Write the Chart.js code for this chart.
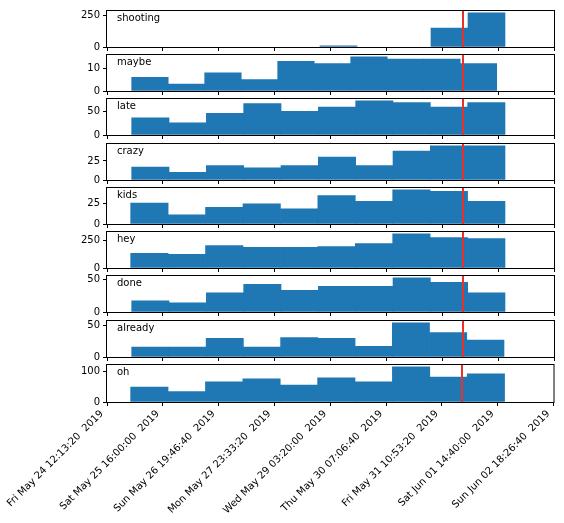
<!DOCTYPE html>
<html>
<head>
<meta charset="utf-8">
<script src="https://cdn.jsdelivr.net/npm/chart.js@4"></script>
<style>
  body { margin: 0; background: #fff; }
  #figure { position: relative; width: 564px; height: 523px; background: #fff; }
  #figure canvas { position: absolute; left: 0; }
</style>
</head>
<body>
<div id="figure"></div>
<script>
// words, one subplot each
const words = ['shooting', 'maybe', 'late', 'crazy', 'kids', 'hey', 'done', 'already', 'oh'];

// histogram counts (10 bins per word)
const shooting = [0, 0, 0, 0, 0, 10, 0, 0, 150, 273];
const maybe = [6, 3, 8, 5, 13, 12, 15, 14, 14, 12];
const late = [37, 26, 47, 68, 51, 60, 74, 70, 60, 70];
const crazy = [17, 10, 19, 16, 19, 30, 19, 38, 45, 45];
const kids = [25, 11, 20, 24, 18, 34, 27, 41, 39, 27];
const hey = [134, 125, 205, 188, 188, 196, 223, 312, 277, 268];
const done = [17, 14, 29, 42, 33, 39, 39, 52, 45, 29];
const already = [16, 16, 30, 16, 31, 30, 17, 55, 39, 27];
const oh = [48, 34, 65, 75, 55, 78, 65, 114, 81, 91];
const counts = [shooting, maybe, late, crazy, kids, hey, done, already, oh];

// first and last bin edge per word (unix seconds)
const binStart = [1558750100, 1558744200, 1558744200, 1558744200, 1558742400, 1558742400, 1558744200, 1558744200, 1558742400];
const binEnd = [1559412300, 1559397450, 1559412300, 1559412300, 1559412300, 1559412300, 1559412300, 1559410500, 1559412300];

// marker line
const markTime = 1559336600;

// x ticks
const xTicks = [1558700000, 1558800000, 1558900000, 1559000000, 1559100000, 1559200000, 1559300000, 1559400000, 1559500000];
const xTickLabels = [
  'Fri May 24 12:13:20  2019', 'Sat May 25 16:00:00  2019', 'Sun May 26 19:46:40  2019',
  'Mon May 27 23:33:20  2019', 'Wed May 29 03:20:00  2019', 'Thu May 30 07:06:40  2019',
  'Fri May 31 10:53:20  2019', 'Sat Jun 01 14:40:00  2019', 'Sun Jun 02 18:26:40  2019'
];

// y ticks per subplot
const yTicks = [[0, 250], [0, 10], [0, 50], [0, 25], [0, 25], [0, 250], [0, 50], [0, 50], [0, 100]];

const font = { family: 'DejaVu Sans', size: 10 };
const W = 564, H = 523;
const plotLeft = 107, plotRight = 554;
const padTop = 10;
const axH = 37;

const figure = document.getElementById('figure');

const framePlugin = {
  id: 'frame',
  afterDatasetsDraw(chart, args, opts) {
    const { ctx, chartArea: a } = chart;
    const x = Math.round(chart.scales.x.getPixelForValue(markTime));
    ctx.save();
    ctx.strokeStyle = '#e8302c';
    ctx.lineWidth = 2;
    ctx.beginPath();
    ctx.moveTo(x, a.top);
    ctx.lineTo(x, a.bottom);
    ctx.stroke();

    ctx.strokeStyle = '#000';
    ctx.lineWidth = 1;
    ctx.strokeRect(a.left - 0.5, a.top - 0.5, a.right - a.left + 1, a.bottom - a.top + 1);

    ctx.fillStyle = '#000';
    ctx.font = '10px "DejaVu Sans"';
    ctx.textBaseline = 'top';
    ctx.textAlign = 'left';
    ctx.fillText(opts.word, a.left + 10, a.top + 2);
    ctx.restore();
  }
};

words.forEach((word, i) => {
  const last = i === words.length - 1;
  const axTop = Math.round(10.7 + i * 44.3);
  const canvasTop = axTop - padTop;
  const xAxisH = last ? H - (axTop + axH) : 8;
  const canvasH = padTop + axH + xAxisH;

  const canvas = document.createElement('canvas');
  canvas.width = W;
  canvas.height = canvasH;
  canvas.style.top = canvasTop + 'px';
  figure.appendChild(canvas);

  const vals = counts[i];
  const step = (binEnd[i] - binStart[i]) / vals.length;
  // empty bins are left out so no hairline is drawn for them
  const data = vals.map((v, k) => ({ x: binStart[i] + (k + 0.5) * step, y: v === 0 ? null : v }));
  const yMax = Math.max(...vals) * 1.05;

  new Chart(canvas, {
    type: 'bar',
    data: {
      datasets: [{
        label: word,
        data: data,
        backgroundColor: '#1f77b4',
        borderWidth: 0,
        barPercentage: 1,
        categoryPercentage: 1
      }]
    },
    options: {
      responsive: false,
      animation: false,
      layout: { padding: { top: padTop, right: W - plotRight, bottom: 0, left: 0 } },
      plugins: {
        legend: { display: false },
        tooltip: { enabled: false },
        frame: { word: word }
      },
      scales: {
        x: {
          type: 'linear',
          min: xTicks[0],
          max: xTicks[xTicks.length - 1],
          offset: false,
          grid: { offset: false, drawOnChartArea: false, drawTicks: true, tickLength: 4, color: '#000' },
          border: { display: false },
          afterBuildTicks: s => { s.ticks = xTicks.map(v => ({ value: v })); },
          afterFit: s => { s.height = xAxisH; },
          ticks: {
            display: last,
            autoSkip: false,
            minRotation: 45,
            maxRotation: 45,
            padding: 2,
            labelOffset: -5,
            color: '#000',
            font: font,
            callback: (v, idx) => xTickLabels[idx]
          }
        },
        y: {
          type: 'linear',
          min: 0,
          max: yMax,
          grid: { drawOnChartArea: false, drawTicks: true, tickLength: 4, color: '#000' },
          border: { display: false },
          afterBuildTicks: s => { s.ticks = yTicks[i].map(v => ({ value: v })); },
          afterFit: s => { s.width = plotLeft; },
          ticks: { padding: 3, color: '#000', font: font }
        }
      }
    },
    plugins: [framePlugin]
  });
});
</script>
</body>
</html>
